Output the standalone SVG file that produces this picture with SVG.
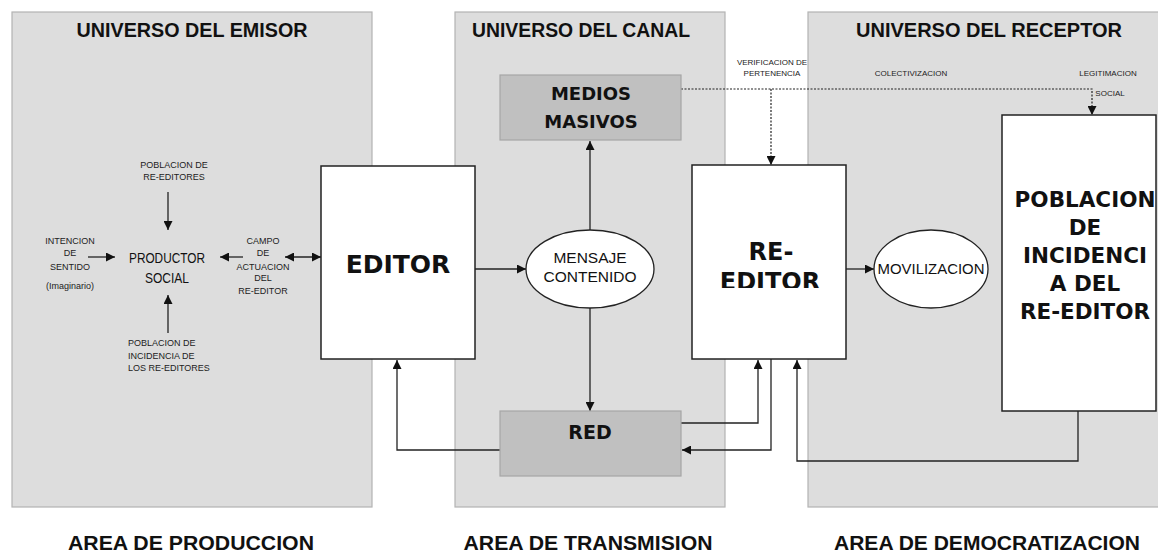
<svg xmlns="http://www.w3.org/2000/svg" width="1158" height="556" viewBox="0 0 1158 556">
<style>
.panel{fill:#dddddd;stroke:#b3b3b3;stroke-width:1.2}
.wbox{fill:#ffffff;stroke:#222;stroke-width:1.5}
.gbox{fill:#c0c0c0;stroke:#a6a6a6;stroke-width:1.2}
.ell{fill:#ffffff;stroke:#222;stroke-width:1.3}
.ttl{font-family:"Liberation Sans",Arial,sans-serif;font-weight:bold;font-size:20px;fill:#111;text-anchor:middle}
.btm{font-family:"Liberation Sans",Arial,sans-serif;font-weight:bold;font-size:20px;fill:#111;text-anchor:middle}
.big{font-family:"DejaVu Sans",Verdana,sans-serif;font-weight:bold;fill:#111;text-anchor:middle}
.nrm{font-family:"Liberation Sans",Arial,sans-serif;fill:#111;text-anchor:middle}
.sm{font-family:"Liberation Sans",Arial,sans-serif;font-size:9px;fill:#222;text-anchor:middle}
.xs{font-family:"Liberation Sans",Arial,sans-serif;font-size:8px;fill:#222;text-anchor:middle}
.ln{fill:none;stroke:#222;stroke-width:1.3}
.arr{marker-end:url(#ah)}
.dot{fill:none;stroke:#222;stroke-width:1.2;stroke-dasharray:2 1.5}
</style>
<defs>
<marker id="ah" markerUnits="userSpaceOnUse" markerWidth="10" markerHeight="9" refX="9" refY="4.5" orient="auto-start-reverse">
<path d="M0,0 L9,4.5 L0,9 z" fill="#111"/>
</marker>
<clipPath id="clipRE"><rect x="692" y="165" width="154" height="123"/></clipPath>
</defs>

<g id="panels">
<rect class="panel" x="12" y="12" width="360" height="495"/>
<rect class="panel" x="455" y="12" width="270" height="495"/>
<rect class="panel" x="808" y="12" width="352" height="495"/>
</g>

<g id="titles">
<text class="ttl" x="192" y="37" textLength="231" lengthAdjust="spacingAndGlyphs">UNIVERSO DEL EMISOR</text>
<text class="ttl" x="581" y="37" textLength="218" lengthAdjust="spacingAndGlyphs">UNIVERSO DEL CANAL</text>
<text class="ttl" x="989" y="37" textLength="266" lengthAdjust="spacingAndGlyphs">UNIVERSO DEL RECEPTOR</text>
<text class="btm" x="191" y="550" textLength="246" lengthAdjust="spacingAndGlyphs">AREA DE PRODUCCION</text>
<text class="btm" x="588" y="550" textLength="249" lengthAdjust="spacingAndGlyphs">AREA DE TRANSMISION</text>
<text class="btm" x="987" y="550" textLength="306" lengthAdjust="spacingAndGlyphs">AREA DE DEMOCRATIZACION</text>
</g>

<g id="connectors">
<line class="ln arr" x1="168" y1="192" x2="168" y2="230"/>
<line class="ln arr" x1="88" y1="257" x2="115" y2="257"/>
<line class="ln arr" x1="243" y1="257" x2="220" y2="257"/>
<line class="ln arr" x1="285" y1="257" x2="321" y2="257" style="marker-start:url(#ah)"/>
<line class="ln arr" x1="168" y1="333" x2="168" y2="295"/>
<line class="ln arr" x1="475" y1="269" x2="526" y2="269"/>
<line class="ln arr" x1="590" y1="230" x2="590" y2="141"/>
<line class="ln arr" x1="590" y1="308" x2="590" y2="411"/>
<polyline class="ln arr" points="500,450 397,450 397,360"/>
<polyline class="ln arr" points="681,423 758,423 758,360"/>
<polyline class="ln arr" points="771,359 771,450 682,450"/>
<polyline class="ln arr" points="1078,411 1078,461 797,461 797,360"/>
<line class="ln arr" x1="846" y1="269" x2="874" y2="269"/>
<polyline class="dot arr" points="681,89 1092,89 1092,115"/>
<line class="dot arr" x1="771" y1="89" x2="771" y2="165"/>
</g>

<g id="left-labels">
<text class="sm" x="174" y="168">POBLACION DE</text>
<text class="sm" x="174" y="180">RE-EDITORES</text>
<text class="sm" x="70" y="244">INTENCION</text>
<text class="sm" x="70" y="256">DE</text>
<text class="sm" x="70" y="270">SENTIDO</text>
<text class="sm" x="70" y="289">(Imaginario)</text>
<text class="sm" x="263" y="244">CAMPO</text>
<text class="sm" x="263" y="256">DE</text>
<text class="sm" x="263" y="270">ACTUACION</text>
<text class="sm" x="263" y="281">DEL</text>
<text class="sm" x="263" y="294">RE-EDITOR</text>
<text class="sm" x="128" y="346" style="text-anchor:start">POBLACION DE</text>
<text class="sm" x="128" y="359" style="text-anchor:start">INCIDENCIA DE</text>
<text class="sm" x="128" y="371" style="text-anchor:start">LOS RE-EDITORES</text>
</g>

<g id="productor">
<text class="nrm" x="167" y="263" font-size="15" textLength="76" lengthAdjust="spacingAndGlyphs">PRODUCTOR</text>
<text class="nrm" x="167" y="283" font-size="15" textLength="44" lengthAdjust="spacingAndGlyphs">SOCIAL</text>
</g>

<g id="editor">
<rect class="wbox" x="321" y="166" width="154" height="193"/>
<text class="big" x="398" y="273" font-size="25">EDITOR</text>
</g>

<g id="medios">
<rect class="gbox" x="500" y="75" width="181" height="65"/>
<text class="big" x="591" y="100" font-size="18">MEDIOS</text>
<text class="big" x="591" y="128" font-size="18">MASIVOS</text>
</g>

<g id="mensaje">
<ellipse class="ell" cx="590" cy="269" rx="64" ry="39"/>
<text class="nrm" x="590" y="263" font-size="15.5">MENSAJE</text>
<text class="nrm" x="590" y="282" font-size="15.5">CONTENIDO</text>
</g>

<g id="red">
<rect class="gbox" x="500" y="411" width="181" height="65"/>
<text class="big" x="590" y="439" font-size="19">RED</text>
</g>

<g id="re-editor">
<rect class="wbox" x="692" y="165" width="154" height="194"/>
<text class="big" x="771" y="260" font-size="24">RE-</text>
<text class="big" x="770" y="290" font-size="24" clip-path="url(#clipRE)">EDITOR</text>
</g>

<g id="movilizacion">
<ellipse class="ell" cx="931" cy="269" rx="57" ry="39"/>
<text class="nrm" x="931" y="274" font-size="15" textLength="107" lengthAdjust="spacingAndGlyphs">MOVILIZACION</text>
</g>

<g id="poblacion">
<rect class="wbox" x="1002" y="115" width="154" height="296"/>
<text class="big" x="1085" y="207" font-size="21.5">POBLACION</text>
<text class="big" x="1085" y="235" font-size="21.5">DE</text>
<text class="big" x="1085" y="263" font-size="21.5">INCIDENCI</text>
<text class="big" x="1085" y="291" font-size="21.5">A DEL</text>
<text class="big" x="1085" y="319" font-size="21.5">RE-EDITOR</text>
</g>

<g id="top-labels">
<text class="xs" x="772" y="65">VERIFICACION DE</text>
<text class="xs" x="772" y="76">PERTENENCIA</text>
<text class="xs" x="911" y="76">COLECTIVIZACION</text>
<text class="xs" x="1108" y="76">LEGITIMACION</text>
<text class="xs" x="1110" y="96">SOCIAL</text>
</g>
</svg>
